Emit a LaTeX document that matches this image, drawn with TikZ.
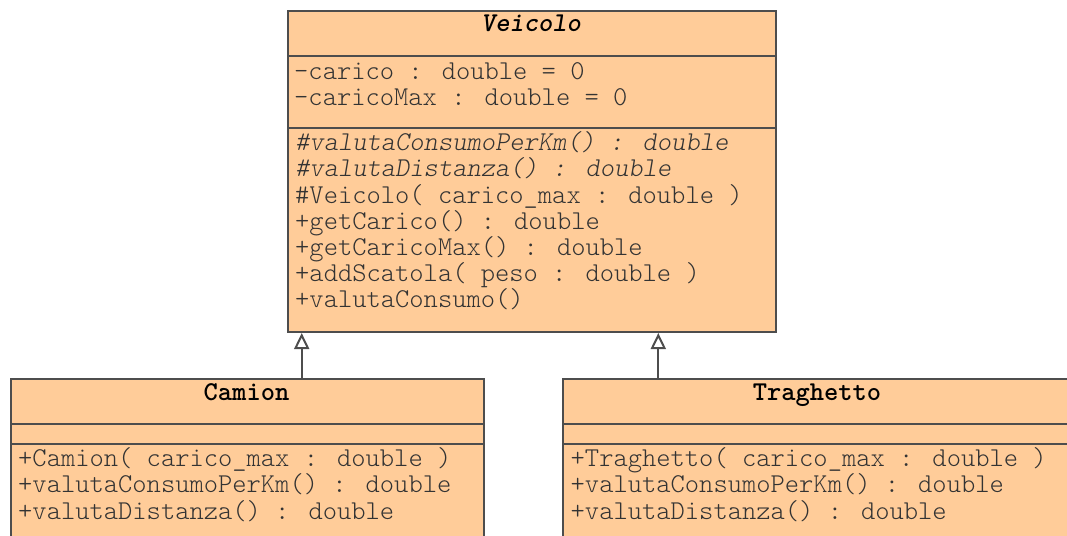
\documentclass[tikz,border=0pt]{standalone}
\usepackage{fontspec}
\usetikzlibrary{arrows.meta,calc}
\definecolor{umlfill}{HTML}{FFCC99}
\definecolor{umlline}{HTML}{4D4D4D}
\definecolor{umltext}{HTML}{333333}
\newcommand\umlfont{\ttfamily\fontsize{27.2}{26.2}\fontseries{l}\selectfont}
\newcommand\umlbold{\ttfamily\fontsize{27.2}{26.2}\fontseries{b}\selectfont}
\begin{document}
\begin{tikzpicture}[x=1pt,y=1pt,
  classbox/.style={draw=umlline, fill=umlfill, line width=2pt, inner sep=0pt, anchor=north west},
  member/.style={anchor=base west, inner sep=0pt, text=umltext, font=\umlfont},
  ctitle/.style={anchor=base, inner sep=0pt, text=black, font=\umlbold},
  sepline/.style={draw=umlline, line width=2pt},
  inherit/.style={draw=umlline, line width=2pt, -{Triangle[open,length=16pt,width=15pt]}}]
\useasboundingbox (0,0) rectangle (1067,-535);

% Veicolo
\node[classbox, minimum width=488pt, minimum height=321pt] (veicolo) at (287,-10) {};
\draw[sepline] ($(veicolo.north west)+(0,-46)$) -- ($(veicolo.north east)+(0,-46)$);
\draw[sepline] ($(veicolo.north west)+(0,-118)$) -- ($(veicolo.north east)+(0,-118)$);
\node[ctitle, font=\umlbold\slshape] (vt) at (531,-32) {Veicolo};
\node[member] (va1) at (294,-79) {-carico : double = 0};
\node[member] (va2) at (294,-105) {-caricoMax : double = 0};
\node[member, font=\umlfont\slshape] (vm1) at (295,-150.7) {\#valutaConsumoPerKm() : double};
\node[member, font=\umlfont\slshape] (vm2) at (295,-176.9) {\#valutaDistanza() : double};
\node[member] (vm3) at (295,-203.1) {\#Veicolo( carico\_max : double )};
\node[member] (vm4) at (295,-229.3) {+getCarico() : double};
\node[member] (vm5) at (295,-255.5) {+getCaricoMax() : double};
\node[member] (vm6) at (295,-281.7) {+addScatola( peso : double )};
\node[member] (vm7) at (295,-307.9) {+valutaConsumo()};

% Camion
\node[classbox, minimum width=473pt, minimum height=200pt] (camion) at (10,-378) {};
\draw[sepline] ($(camion.north west)+(0,-46)$) -- ($(camion.north east)+(0,-46)$);
\draw[sepline] ($(camion.north west)+(0,-66)$) -- ($(camion.north east)+(0,-66)$);
\node[ctitle] (ct) at (246.5,-400) {Camion};
\node[member] (cm1) at (18,-466.7) {+Camion( carico\_max : double )};
\node[member] (cm2) at (18,-492.9) {+valutaConsumoPerKm() : double};
\node[member] (cm3) at (18,-519.1) {+valutaDistanza() : double};

% Traghetto
\node[classbox, minimum width=510pt, minimum height=200pt] (traghetto) at (562,-378) {};
\draw[sepline] ($(traghetto.north west)+(0,-46)$) -- ($(traghetto.north east)+(0,-46)$);
\draw[sepline] ($(traghetto.north west)+(0,-66)$) -- ($(traghetto.north east)+(0,-66)$);
\node[ctitle] (tt) at (817,-400) {Traghetto};
\node[member] (tm1) at (570.5,-466.7) {+Traghetto( carico\_max : double )};
\node[member] (tm2) at (570.5,-492.9) {+valutaConsumoPerKm() : double};
\node[member] (tm3) at (570.5,-519.1) {+valutaDistanza() : double};

% inheritance
\coordinate (carr) at ($(camion.north west)+(291.7,0)$);
\coordinate (tarr) at ($(traghetto.north west)+(96.3,0)$);
\draw[inherit] (carr) -- (carr |- veicolo.south);
\draw[inherit] (tarr) -- (tarr |- veicolo.south);
\end{tikzpicture}
\end{document}
